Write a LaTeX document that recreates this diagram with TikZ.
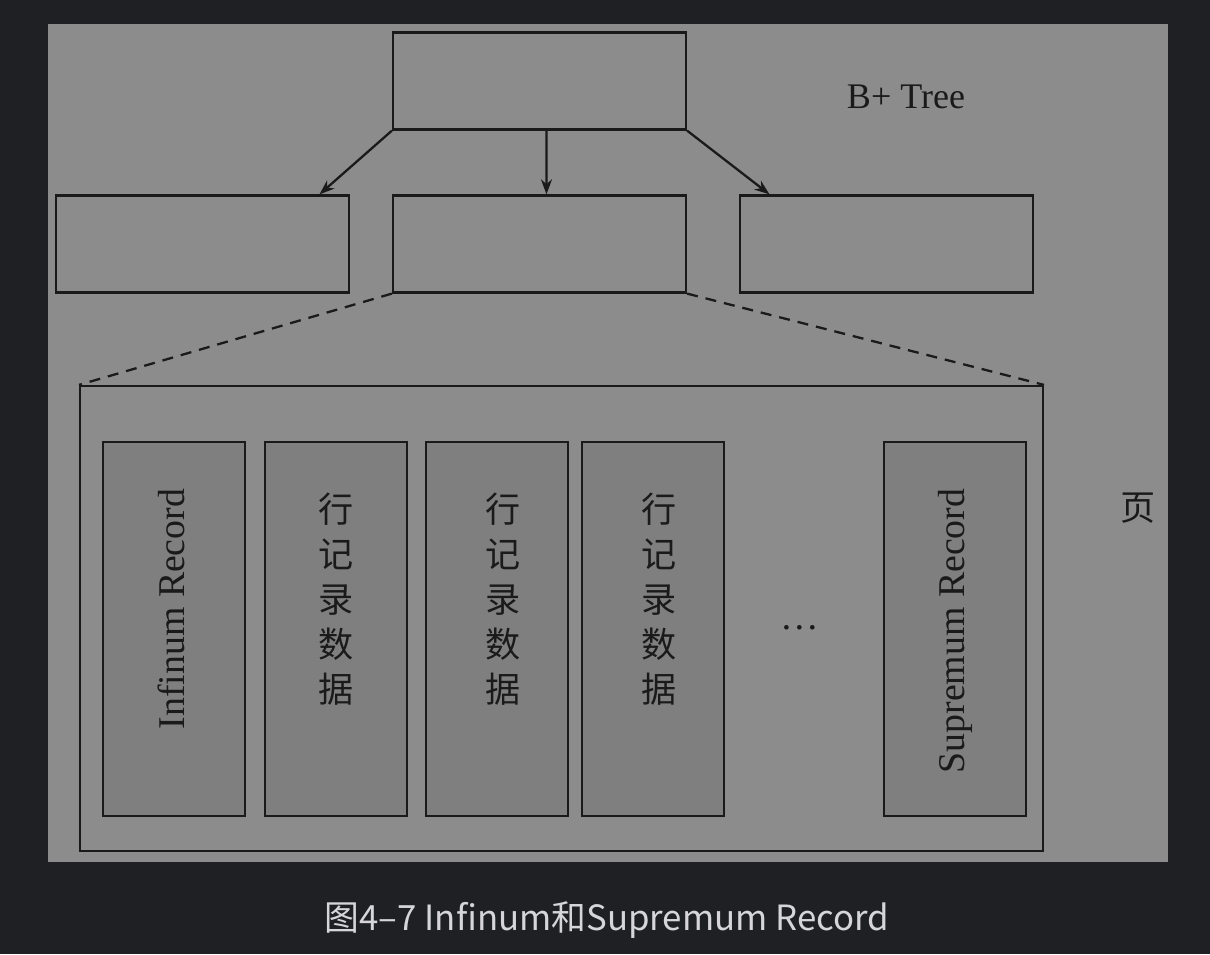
\documentclass[tikz,border=0pt]{standalone}
\usepackage{fontspec}
\setmainfont{Liberation Serif}
\newfontfamily\cjk{Noto Sans CJK SC}
\usepackage{tikz}
\usetikzlibrary{arrows.meta, positioning, calc}
\definecolor{darkbg}{HTML}{1F2023}
\definecolor{panel}{HTML}{8C8C8C}
\definecolor{cell}{HTML}{7F7F7F}
\definecolor{ink}{HTML}{1A1A1A}
\definecolor{captext}{HTML}{D6D6DA}
\tikzset{
  box/.style={draw=ink, line width=1.3pt, minimum width=5.86cm, minimum height=1.94cm, inner sep=0pt},
  cellbox/.style={draw=ink, line width=1.3pt, fill=cell, minimum width=2.84cm, minimum height=7.48cm, inner sep=0pt},
  rowtext/.style={font=\cjk\fontsize{20}{25.6}\selectfont, align=center, text=ink},
  sidetext/.style={font=\fontsize{21.5}{24}\selectfont, rotate=90, text=ink}
}

\begin{document}
\begin{tikzpicture}[x=0.02cm, y=-0.02cm, level distance=3.26cm, sibling distance=6.84cm,
  edge from parent/.style={draw=ink, line width=1.3pt, -{Stealth[length=0.3cm, width=0.22cm]}}]
\useasboundingbox (0,0) rectangle (1210,954);
\fill[darkbg] (0,0) rectangle (1210,954);
\fill[panel] (48,24) rectangle (1168,862);

% B+ tree
\node[box] (root) at (539.5,81) {}
    child[parent anchor=south west, child anchor=23] {node[box, xshift=0.1cm] (left) {}}
    child[parent anchor=-82.3, child anchor=82.4] {node[box] (mid) {}}
    child[parent anchor=south east, child anchor=157.9] {node[box, xshift=0.1cm] (right) {}};
\node[font=\fontsize{20.5}{24}\selectfont, text=ink] (treelabel) at (906,97) {B+ Tree};

% page
\node[draw=ink, line width=1.3pt, minimum width=19.26cm, minimum height=9.3cm, inner sep=0pt] (page) at (561.5,618.5) {};
\draw[ink, line width=1.3pt, dash pattern=on 0.22cm off 0.16cm] (mid.south west) -- (page.north west);
\draw[ink, line width=1.3pt, dash pattern=on 0.22cm off 0.16cm] (mid.south east) -- (page.north east);
\node[font=\cjk\fontsize{20}{24}\selectfont, text=ink] (pagelabel) at (1138,508) {页};

% records
\node[cellbox] (infimum) at (174,629) {};
\node[cellbox] (row1) at (336,629) {};
\node[cellbox] (row2) at (497,629) {};
\node[cellbox] (row3) at (653,629) {};
\node[cellbox] (supremum) at (955,629) {};
\node[sidetext] (inftext) at (171,609) {Infinum Record};
\node[rowtext] (row1text) at (336,599) {行\\记\\录\\数\\据};
\node[rowtext] (row2text) at (503,599) {行\\记\\录\\数\\据};
\node[rowtext] (row3text) at (659,599) {行\\记\\录\\数\\据};
\node[font=\fontsize{22}{24}\selectfont, text=ink] (dots) at (800,628) {…};
\node[sidetext] (suptext) at (955,631) {Supremum Record};

% caption
\node[font=\cjk\fontsize{19.8}{22}\selectfont, text=captext] (caption) at (607,920) {图4–7 Infinum和Supremum Record};
\end{tikzpicture}
\end{document}
